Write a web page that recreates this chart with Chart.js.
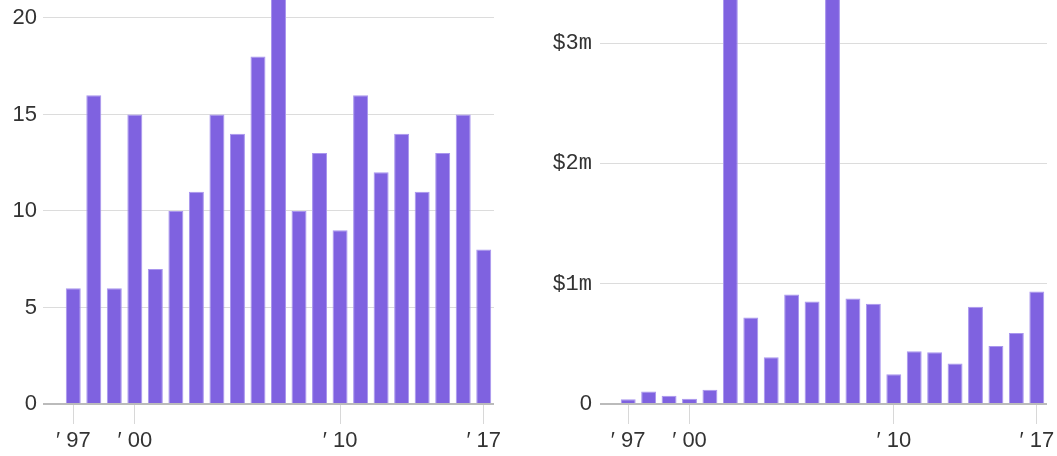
<!DOCTYPE html>
<html>
<head>
<meta charset="utf-8">
<script src="https://cdn.jsdelivr.net/npm/chart.js@4/dist/chart.umd.min.js"></script>
<style>
  html, body { margin: 0; padding: 0; background: #fff; }
  .box { position: absolute; top: 0; height: 456px; }
</style>
</head>
<body>
<div class="box" style="left:0;width:500px"><canvas id="countChart"></canvas></div>
<div class="box" style="left:530px;width:527px"><canvas id="valueChart"></canvas></div>
<script>
const years = ["1997", "1998", "1999", "2000", "2001", "2002", "2003", "2004", "2005", "2006", "2007",
  "2008", "2009", "2010", "2011", "2012", "2013", "2014", "2015", "2016", "2017"];
const shownYears = ["1997", "2000", "2010", "2017"];

// number of deals per year (2007 runs off the top)
const dealCounts = [6, 16, 6, 15, 7, 10, 11, 15, 14, 18, 21, 10, 13, 9, 16, 12, 14, 11, 13, 15, 8];

// total value per year, in $ millions (2002 and 2007 run off the top)
const dealValues = [0.039, 0.103, 0.069, 0.044, 0.119, 4.2, 0.72, 0.389, 0.91, 0.852, 4.0,
  0.877, 0.833, 0.247, 0.438, 0.43, 0.336, 0.808, 0.483, 0.591, 0.935];

const barColor = "#7f62e0";
const sans = "'Liberation Sans', Arial, sans-serif";
const mono = "'Liberation Mono', 'Courier New', monospace";

function yearLabel(i) {
  return shownYears.includes(years[i]) ? "\u2032 " + years[i].slice(2) : "";
}

function makeChart(id, values, cfg) {
  return new Chart(document.getElementById(id), {
    type: "bar",
    data: {
      labels: years,
      datasets: [{
        data: values,
        backgroundColor: barColor,
        borderColor: "#a996ee",
        borderWidth: 1,
        barPercentage: 0.73,
        categoryPercentage: 1
      }]
    },
    options: {
      animation: false,
      responsive: true,
      maintainAspectRatio: false,
      layout: { padding: { top: 0, right: cfg.rightPad, bottom: 0, left: 0 } },
      plugins: { legend: { display: false }, tooltip: { enabled: false } },
      scales: {
        x: {
          border: { display: false },
          grid: {
            offset: false,
            drawOnChartArea: false,
            tickLength: 20,
            color: ctx => shownYears.includes(years[ctx.index]) ? "#d8d8d8" : "rgba(0,0,0,0)"
          },
          ticks: {
            autoSkip: false,
            maxRotation: 0,
            padding: 4,
            color: "#333",
            font: { family: sans, size: 22 },
            callback: (v, i) => yearLabel(i)
          },
          afterFit: s => { s.height = 52; s.paddingLeft = 0; s.paddingRight = 0; }
        },
        y: {
          min: 0,
          max: cfg.max,
          border: { display: false },
          grid: {
            tickLength: cfg.tickLength,
            color: ctx => ctx.tick && ctx.tick.value === 0 ? "#bbbbbb" : "#dcdcdc",
            lineWidth: ctx => ctx.tick && ctx.tick.value === 0 ? 2 : 1
          },
          ticks: {
            stepSize: cfg.step,
            includeBounds: false,
            padding: cfg.labelPad,
            color: "#333",
            font: cfg.font,
            callback: cfg.format
          },
          afterFit: s => { s.width = cfg.axisWidth; s.paddingTop = 0; s.paddingBottom = 0; }
        }
      }
    }
  });
}

makeChart("countChart", dealCounts, {
  max: 20.93,
  step: 5,
  rightPad: 6,
  axisWidth: 63,
  tickLength: 20,
  labelPad: 6,
  font: { family: sans, size: 22 },
  format: v => String(v)
});

makeChart("valueChart", dealValues, {
  max: 3.36,
  step: 1,
  rightPad: 10,
  axisWidth: 88,
  tickLength: 18,
  labelPad: 8,
  font: ctx => ctx.tick && ctx.tick.value === 0 ? { family: sans, size: 22 } : { family: mono, size: 22 },
  format: v => v === 0 ? "0" : "$" + v + "m"
});
</script>
</body>
</html>
